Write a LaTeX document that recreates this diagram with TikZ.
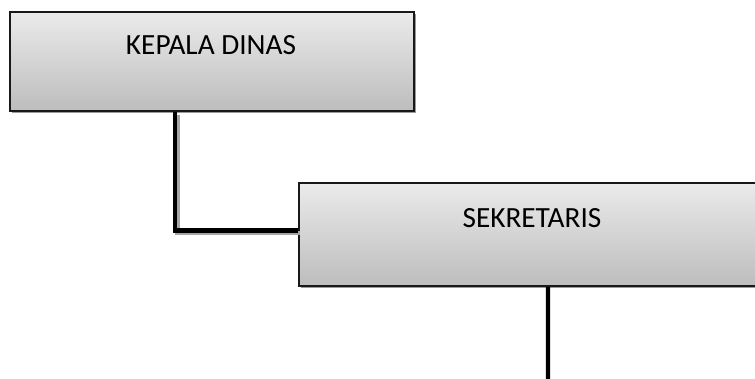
\documentclass[tikz,border=0pt]{standalone}
\usepackage{fontspec}
\setmainfont{Carlito}

\begin{document}
\begin{tikzpicture}[x=0.03cm, y=-0.03cm]
\tikzstyle{jabatan}=[rectangle, draw=black!90, line width=1.9pt, top color=black!8, bottom color=black!26]
\tikzstyle{bayang}=[fill=black!40]
\tikzstyle{judul}=[font=\fontsize{25}{30}\selectfont, inner sep=0pt]
\tikzstyle{connect}=[line width=4pt, preaction={draw=black!35, line width=4pt, transform canvas={shift={(0.07cm,-0.07cm)}}}]

\useasboundingbox (0,0) rectangle (755,378);
\clip (0,0) rectangle (755,378);
\fill[white] (-5,-5) rectangle (800,400);

% shadows
\fill[bayang] (12,14) rectangle (416,113);
\fill[bayang] (301,185) rectangle (820,288);

\node[jabatan, minimum width=12.12cm, minimum height=2.97cm, anchor=north west] at (9,11) (kepala) {};
\node[jabatan, minimum width=15.6cm, minimum height=3.09cm, anchor=north west] at (298,182) (sekretaris) {};
\node[judul] at (211,45) (kepalaText) {KEPALA DINAS};
\node[judul] at (532,218) (sekretarisText) {SEKRETARIS};
\coordinate (bawah) at (548,385);

\draw[connect] ([xshift=4.98cm]kepala.south west) |- ([yshift=0.12cm]sekretaris.west);
\draw[line width=3.6pt] ([xshift=7.5cm]sekretaris.south west) -- (bawah);
\end{tikzpicture}
\end{document}
